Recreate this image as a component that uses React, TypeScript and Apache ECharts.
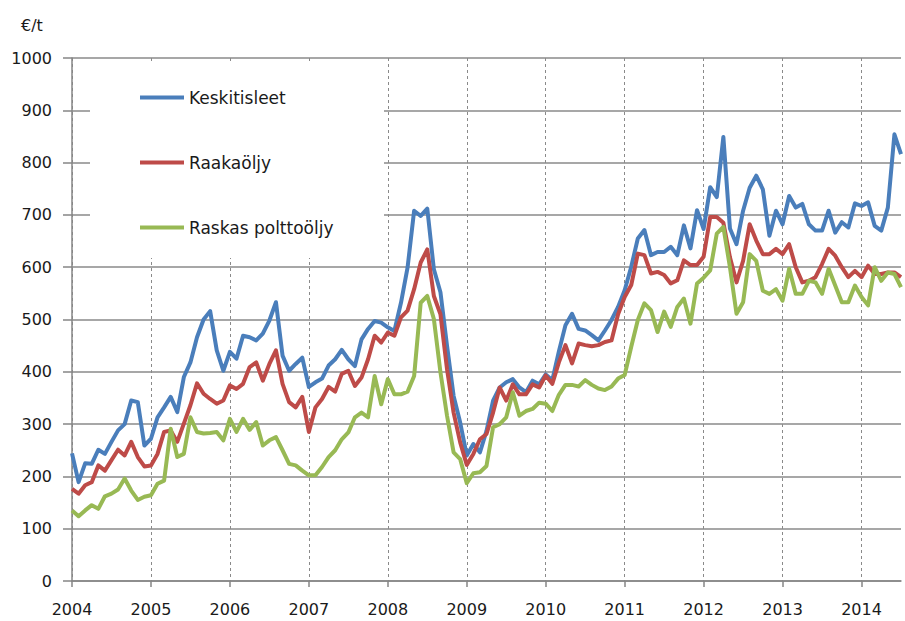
import React, { useEffect, useRef } from "react";
import * as echarts from "echarts";

const yearLabels = ["2004", "2005", "2006", "2007", "2008", "2009", "2010", "2011", "2012", "2013", "2014"];
const monthCodes = ["01", "02", "03", "04", "05", "06", "07", "08", "09", "10", "11", "12"];
const months = yearLabels.flatMap((y) => monthCodes.map((m) => `${y}-${m}`)).slice(0, 127);

const seriesNames = ["Keskitisleet", "Raakaöljy", "Raskas polttoöljy"];

const keskitisleet = [
  244, 189, 225, 224, 251, 243, 266, 288, 300, 345, 342, 259,
  272, 313, 332, 352, 323, 390, 418, 466, 500, 516, 441, 402,
  438, 425, 469, 466, 460, 473, 498, 533, 431, 402, 415, 427,
  371, 380, 387, 412, 424, 442, 424, 411, 462, 482, 497, 494,
  485, 478, 532, 599, 708, 698, 712, 596, 552, 450, 354, 303,
  240, 262, 246, 287, 345, 370, 380, 386, 370, 361, 383, 376,
  395, 384, 439, 489, 511, 482, 479, 470, 460, 479, 499, 524,
  556, 601, 655, 671, 623, 629, 629, 639, 623, 680, 636, 709,
  673, 753, 734, 849, 674, 644, 708, 752, 775, 749, 660, 708,
  682, 736, 714, 721, 682, 670, 670, 708, 666, 686, 676, 722,
  717, 724, 679, 670, 714, 854, 816,
];

const raakaoljy = [
  176, 167, 183, 189, 221, 211, 231, 251, 240, 266, 237, 219,
  221, 243, 285, 288, 266, 301, 336, 378, 358, 348, 339, 345,
  374, 367, 377, 409, 418, 383, 415, 441, 377, 342, 332, 352,
  285, 332, 348, 371, 362, 396, 402, 373, 389, 424, 469, 456,
  475, 469, 504, 517, 558, 609, 634, 545, 510, 405, 322, 265,
  222, 243, 271, 281, 322, 370, 345, 376, 357, 357, 376, 370,
  393, 377, 418, 451, 416, 454, 451, 449, 451, 457, 460, 510,
  543, 566, 626, 623, 588, 591, 585, 569, 575, 613, 604, 604,
  620, 696, 696, 685, 619, 571, 612, 682, 651, 625, 625, 635,
  625, 644, 600, 571, 574, 581, 606, 635, 622, 600, 581, 593,
  581, 603, 587, 587, 590, 590, 581,
];

const raskasPolttooljy = [
  135, 124, 135, 145, 138, 162, 167, 175, 196, 173, 155, 161,
  164, 186, 192, 291, 237, 243, 313, 285, 282, 283, 285, 269,
  310, 285, 310, 289, 304, 259, 269, 275, 250, 224, 221, 211,
  202, 202, 218, 237, 250, 271, 284, 313, 322, 313, 392, 338,
  386, 357, 357, 362, 392, 532, 545, 501, 399, 316, 246, 233,
  187, 206, 208, 220, 294, 300, 313, 361, 316, 325, 329, 341,
  339, 325, 356, 375, 375, 372, 384, 375, 368, 365, 372, 387,
  394, 448, 499, 531, 518, 476, 515, 486, 524, 540, 492, 569,
  580, 594, 664, 677, 600, 511, 533, 625, 612, 555, 549, 558,
  536, 597, 549, 549, 574, 571, 549, 597, 565, 533, 533, 565,
  543, 527, 600, 574, 590, 587, 562,
];

const seriesColors = ["#4A7EBB", "#BE4B48", "#98B954"];
const seriesData = [keskitisleet, raakaoljy, raskasPolttooljy];

const FONT = "DejaVu Sans";
const TEXT = "#1a1a1a";
const GRID_GRAY = "#8a8a8a";

export default function App() {
  const ref = useRef<HTMLDivElement>(null);

  useEffect(() => {
    document.body.style.margin = "0";
    const chart = echarts.init(ref.current as HTMLDivElement, null, { renderer: "svg" });
    const yearTick = (i: number) => i % 12 === 0;
    chart.setOption({
      animation: false,
      backgroundColor: "#ffffff",
      textStyle: { fontFamily: FONT },
      title: {
        text: "€/t",
        left: 16,
        top: 12,
        textStyle: { fontFamily: FONT, fontSize: 16, fontWeight: "normal", color: TEXT },
      },
      grid: { left: 72, right: 4, top: 58, bottom: 40, containLabel: false },
      legend: {
        orient: "vertical",
        left: 135,
        top: 84,
        itemWidth: 44,
        itemHeight: 4,
        itemGap: 48,
        icon: "rect",
        selectedMode: false,
        data: seriesNames,
        textStyle: { fontFamily: FONT, fontSize: 17, color: TEXT },
        z: 6,
      },
      graphic: [
        {
          type: "rect",
          silent: true,
          z: 1,
          shape: { x: 90, y: 64, width: 294, height: 194 },
          style: { fill: "#ffffff" },
        },
      ],
      xAxis: {
        type: "category",
        data: months,
        boundaryGap: false,
        axisLine: { lineStyle: { color: "#868686", width: 1.5 } },
        axisTick: {
          show: true,
          interval: yearTick,
          length: 6,
          lineStyle: { color: "#868686", width: 1.5 },
        },
        axisLabel: {
          interval: yearTick,
          formatter: (v: string) => v.slice(0, 4),
          margin: 20,
          fontSize: 16,
          fontFamily: FONT,
          color: TEXT,
        },
        splitLine: {
          show: true,
          interval: yearTick,
          lineStyle: { type: [3, 3], color: "#8a8a8a", width: 1 },
        },
      },
      yAxis: {
        type: "value",
        min: 0,
        max: 1000,
        interval: 100,
        axisLine: { show: true, lineStyle: { color: "#868686", width: 1.5 } },
        axisTick: { show: true, length: 9, lineStyle: { color: "#868686", width: 1.5 } },
        axisLabel: {
          margin: 20,
          fontSize: 16,
          fontFamily: FONT,
          color: TEXT,
          formatter: (v: number) => String(v),
        },
        splitLine: { show: true, lineStyle: { color: GRID_GRAY, width: 1.5 } },
      },
      series: seriesNames.map((name, k) => ({
        name,
        type: "line",
        data: seriesData[k],
        symbol: "none",
        showSymbol: false,
        color: seriesColors[k],
        lineStyle: { width: 4, color: seriesColors[k], join: "round" },
        z: 2 + k,
      })),
    });
    return () => chart.dispose();
  }, []);

  return <div ref={ref} style={{ width: 905, height: 621 }} />;
}
